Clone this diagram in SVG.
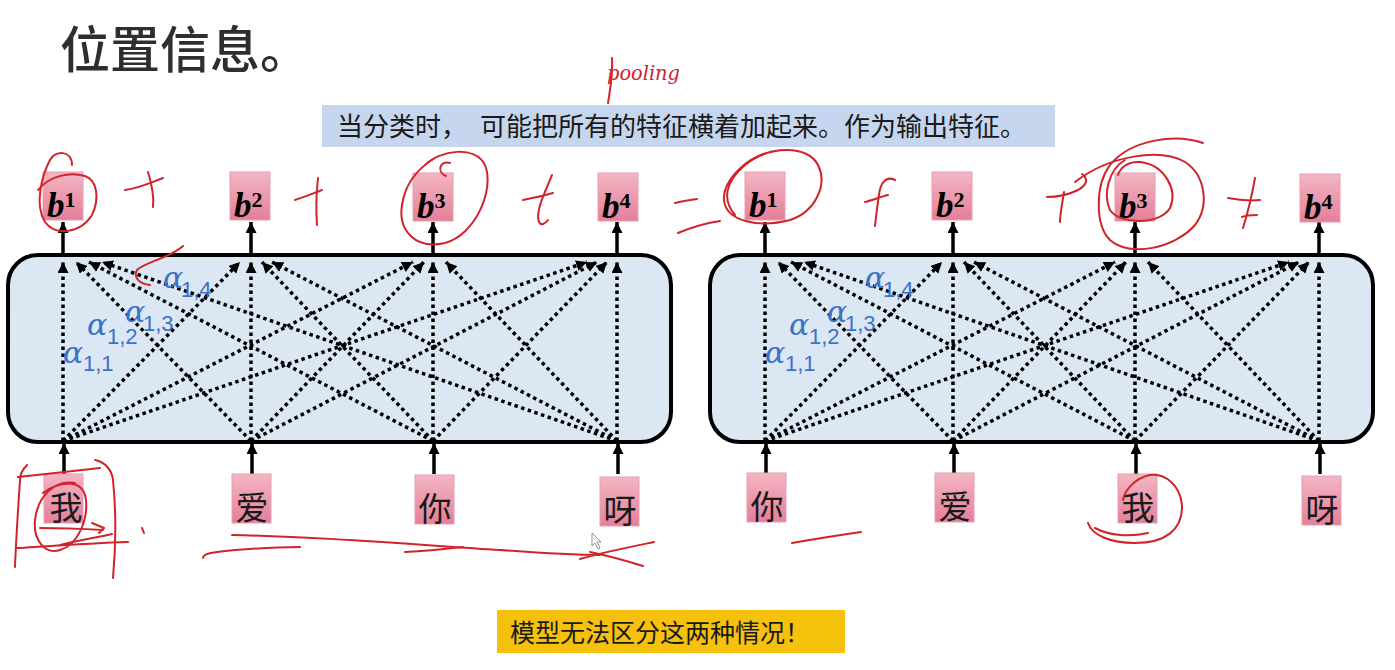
<svg xmlns="http://www.w3.org/2000/svg" width="1395" height="670" viewBox="0 0 1395 670">
<style>
.cjk{font-family:"Noto Sans CJK SC","Noto Sans",sans-serif;fill:#1a1a1a}
.box{fill:url(#pink);stroke:#e6a0b2;stroke-width:1}
.blk{fill:#dce7f4;stroke:#000;stroke-width:4}
.bl{font-family:"Liberation Serif",serif;font-weight:bold;font-style:italic;font-size:35px;fill:#000}
.sup{font-style:normal;font-size:22px}
.ch{font-size:33px;text-anchor:middle}
.solid{stroke:#000;stroke-width:3.5;marker-end:url(#ah)}
.dot{stroke:#000;stroke-width:3.5;stroke-dasharray:3.5 3.5;fill:none;marker-end:url(#ahs)}
.al{font-family:"DejaVu Serif",serif;font-style:italic;font-size:30px;fill:#3d72c4}
.sub{font-family:"Liberation Sans",sans-serif;font-size:22px;fill:#3d72c4}
.ink{fill:none;stroke:#d1232a;stroke-width:2;stroke-linecap:round;stroke-linejoin:round}
</style>
<defs>
<linearGradient id="pink" x1="0" y1="0" x2="0" y2="1">
<stop offset="0" stop-color="#f3b6c4"/>
<stop offset="1" stop-color="#e47f98"/>
</linearGradient>
<marker id="ah" markerUnits="userSpaceOnUse" markerWidth="12" markerHeight="12" refX="11" refY="5.5" orient="auto">
<path d="M0,0 L11,5.5 L0,11 z" fill="#000"/>
</marker>
<marker id="ahs" markerUnits="userSpaceOnUse" markerWidth="12" markerHeight="12" refX="11" refY="5.5" orient="auto">
<path d="M0,0 L11,5.5 L0,11 z" fill="#000"/>
</marker>
</defs>
<rect width="1395" height="670" fill="#fff"/>

<g id="title">
<text class="cjk" x="60" y="68" font-size="50" font-weight="500" style="fill:#2e2e2e">位置信息。</text>
</g>

<g id="banner">
<rect x="322" y="105" width="733" height="42" fill="#c5d6ee"/>
<text class="cjk" y="136" font-size="26"><tspan x="337">当分类时，</tspan><tspan x="480">可能把所有的特征横着加起来。作为输出特征。</tspan></text>
</g>

<g id="left-block"><rect class="blk" x="8" y="255" width="663" height="187" rx="30"/></g>
<g id="right-block"><rect class="blk" x="710" y="255" width="663" height="187" rx="30"/></g>

<g id="connectors">
<line class="solid" x1="63" y1="255" x2="63" y2="222"/>
<line class="solid" x1="251" y1="255" x2="251" y2="222"/>
<line class="solid" x1="433" y1="255" x2="433" y2="222"/>
<line class="solid" x1="617" y1="255" x2="617" y2="222"/>
<line class="solid" x1="765" y1="255" x2="765" y2="222"/>
<line class="solid" x1="953" y1="255" x2="953" y2="222"/>
<line class="solid" x1="1135" y1="255" x2="1135" y2="222"/>
<line class="solid" x1="1319" y1="255" x2="1319" y2="222"/>
<line class="solid" x1="64" y1="474" x2="64" y2="443"/>
<line class="solid" x1="252" y1="474" x2="252" y2="443"/>
<line class="solid" x1="434" y1="474" x2="434" y2="443"/>
<line class="solid" x1="618" y1="474" x2="618" y2="443"/>
<line class="solid" x1="766" y1="474" x2="766" y2="443"/>
<line class="solid" x1="954" y1="474" x2="954" y2="443"/>
<line class="solid" x1="1136" y1="474" x2="1136" y2="443"/>
<line class="solid" x1="1320" y1="474" x2="1320" y2="443"/>

<line class="dot" x1="63" y1="441" x2="63" y2="262"/>
<line class="dot" x1="63" y1="441" x2="240" y2="262"/>
<line class="dot" x1="63" y1="441" x2="413" y2="262"/>
<line class="dot" x1="63" y1="441" x2="587" y2="262"/>
<line class="dot" x1="251" y1="441" x2="76" y2="262"/>
<line class="dot" x1="251" y1="441" x2="251" y2="262"/>
<line class="dot" x1="251" y1="441" x2="424" y2="262"/>
<line class="dot" x1="251" y1="441" x2="597" y2="262"/>
<line class="dot" x1="433" y1="441" x2="89" y2="262"/>
<line class="dot" x1="433" y1="441" x2="262" y2="262"/>
<line class="dot" x1="433" y1="441" x2="433" y2="262"/>
<line class="dot" x1="433" y1="441" x2="607" y2="262"/>
<line class="dot" x1="617" y1="441" x2="102" y2="262"/>
<line class="dot" x1="617" y1="441" x2="272" y2="262"/>
<line class="dot" x1="617" y1="441" x2="446" y2="262"/>
<line class="dot" x1="617" y1="441" x2="617" y2="262"/>

<line class="dot" x1="765" y1="441" x2="765" y2="262"/>
<line class="dot" x1="765" y1="441" x2="942" y2="262"/>
<line class="dot" x1="765" y1="441" x2="1115" y2="262"/>
<line class="dot" x1="765" y1="441" x2="1289" y2="262"/>
<line class="dot" x1="953" y1="441" x2="778" y2="262"/>
<line class="dot" x1="953" y1="441" x2="953" y2="262"/>
<line class="dot" x1="953" y1="441" x2="1126" y2="262"/>
<line class="dot" x1="953" y1="441" x2="1299" y2="262"/>
<line class="dot" x1="1135" y1="441" x2="791" y2="262"/>
<line class="dot" x1="1135" y1="441" x2="964" y2="262"/>
<line class="dot" x1="1135" y1="441" x2="1135" y2="262"/>
<line class="dot" x1="1135" y1="441" x2="1309" y2="262"/>
<line class="dot" x1="1319" y1="441" x2="804" y2="262"/>
<line class="dot" x1="1319" y1="441" x2="974" y2="262"/>
<line class="dot" x1="1319" y1="441" x2="1148" y2="262"/>
<line class="dot" x1="1319" y1="441" x2="1319" y2="262"/>
</g>

<g id="alpha-left">
<text class="al" x="163" y="288">α</text><text class="sub" x="181" y="297">1,4</text>
<text class="al" x="125" y="322">α</text><text class="sub" x="143" y="331">1,3</text>
<text class="al" x="87" y="335">α</text><text class="sub" x="107" y="344">1,2</text>
<text class="al" x="63" y="363">α</text><text class="sub" x="83" y="371">1,1</text>
</g>
<g id="alpha-right">
<text class="al" x="865" y="288">α</text><text class="sub" x="883" y="297">1,4</text>
<text class="al" x="827" y="322">α</text><text class="sub" x="845" y="331">1,3</text>
<text class="al" x="789" y="335">α</text><text class="sub" x="809" y="344">1,2</text>
<text class="al" x="765" y="363">α</text><text class="sub" x="785" y="371">1,1</text>
</g>

<g id="L-b1"><rect class="box" x="43" y="172" width="40" height="48"/><text class="bl" x="47" y="217">b<tspan class="sup" dy="-10">1</tspan></text></g>
<g id="L-b2"><rect class="box" x="230" y="172" width="40" height="48"/><text class="bl" x="234" y="217">b<tspan class="sup" dy="-10">2</tspan></text></g>
<g id="L-b3"><rect class="box" x="413" y="173" width="40" height="48"/><text class="bl" x="417" y="218">b<tspan class="sup" dy="-10">3</tspan></text></g>
<g id="L-b4"><rect class="box" x="598" y="173" width="40" height="48"/><text class="bl" x="602" y="218">b<tspan class="sup" dy="-10">4</tspan></text></g>
<g id="R-b1"><rect class="box" x="745" y="172" width="40" height="48"/><text class="bl" x="749" y="217">b<tspan class="sup" dy="-10">1</tspan></text></g>
<g id="R-b2"><rect class="box" x="932" y="172" width="40" height="48"/><text class="bl" x="936" y="217">b<tspan class="sup" dy="-10">2</tspan></text></g>
<g id="R-b3"><rect class="box" x="1115" y="173" width="40" height="48"/><text class="bl" x="1119" y="218">b<tspan class="sup" dy="-10">3</tspan></text></g>
<g id="R-b4"><rect class="box" x="1300" y="174" width="40" height="48"/><text class="bl" x="1304" y="219">b<tspan class="sup" dy="-10">4</tspan></text></g>

<g id="L-w1"><rect class="box" x="44" y="474" width="39" height="49"/><text class="cjk ch" x="66" y="520">我</text></g>
<g id="L-w2"><rect class="box" x="232" y="474" width="39" height="49"/><text class="cjk ch" x="252" y="520">爱</text></g>
<g id="L-w3"><rect class="box" x="415" y="475" width="39" height="49"/><text class="cjk ch" x="435" y="521">你</text></g>
<g id="L-w4"><rect class="box" x="600" y="477" width="39" height="49"/><text class="cjk ch" x="620" y="523">呀</text></g>
<g id="R-w1"><rect class="box" x="747" y="473" width="39" height="49"/><text class="cjk ch" x="767" y="519">你</text></g>
<g id="R-w2"><rect class="box" x="935" y="473" width="39" height="49"/><text class="cjk ch" x="955" y="519">爱</text></g>
<g id="R-w3"><rect class="box" x="1118" y="474" width="39" height="49"/><text class="cjk ch" x="1138" y="520">我</text></g>
<g id="R-w4"><rect class="box" x="1302" y="476" width="39" height="49"/><text class="cjk ch" x="1322" y="522">呀</text></g>

<g id="note">
<rect x="497" y="610" width="348" height="43" fill="#f5c10c"/>
<text class="cjk" x="510" y="642" font-size="25">模型无法区分这两种情况！</text>
</g>

<g id="handwriting">
<text x="607" y="80" font-family="DejaVu Serif, serif" font-style="italic" font-size="20" fill="#d1232a" textLength="73" lengthAdjust="spacingAndGlyphs">pooling</text>
<path class="ink" d="M612,58 C613,75 610,90 608,103"/>
<path class="ink" d="M72,165 C72,150 55,150 50,160 C42,175 34,205 45,222 C55,236 80,234 92,215 C100,198 97,180 85,176 C70,172 50,175 38,190"/>
<path class="ink" d="M125,190 C140,188 152,182 163,178 M148,172 C152,185 154,198 153,207"/>
<path class="ink" d="M295,200 C305,197 314,193 322,190 M318,178 C316,195 316,210 317,225"/>
<path class="ink" d="M450,163 C440,160 436,172 446,176 M425,165 C440,150 475,145 485,165 C495,190 475,235 445,243 C415,250 398,230 402,205 C405,185 415,170 435,158"/>
<path class="ink" d="M183,246 C170,258 145,262 137,270 C133,278 140,284 150,285"/>
<path class="ink" d="M552,175 C545,192 535,212 539,222 C541,226 545,224 548,220 M523,200 C533,198 543,196 553,193"/>
<path class="ink" d="M675,203 C683,201 690,200 697,199 M678,233 C690,228 705,223 720,221"/>
<path class="ink" d="M782,150 C750,152 722,180 724,200 C726,222 760,228 790,220 C815,212 828,185 818,165 C808,145 770,145 745,165 C725,182 722,200 735,215"/>
<path class="ink" d="M895,180 C885,175 880,185 879,195 C877,208 876,218 875,226 M865,202 C873,200 880,197 888,195"/>
<path class="ink" d="M1047,197 C1058,197 1070,194 1078,190 C1085,186 1090,180 1082,174 M1064,192 C1062,205 1060,215 1060,222"/>
<path class="ink" d="M1203,143 C1175,133 1130,140 1110,165 C1095,185 1095,225 1110,240 C1130,258 1175,248 1195,225 C1210,205 1205,175 1185,162 C1160,148 1110,155 1075,182"/>
<path class="ink" d="M1125,160 C1108,170 1103,195 1110,210 C1120,225 1160,225 1170,208 C1178,190 1165,165 1140,162 C1128,161 1120,168 1118,175"/>
<path class="ink" d="M1228,198 C1238,200 1250,201 1260,200 M1255,178 C1252,195 1248,212 1243,228 M1242,217 C1247,215 1252,215 1257,215"/>
<path class="ink" d="M27,465 C22,470 20,475 20,480 C18,510 16,540 15,567 M18,477 C45,474 80,470 100,468 M95,460 C105,462 112,470 113,480 C116,510 116,545 113,578 M17,548 C50,546 95,543 128,542 M60,545 C80,540 100,537 112,534"/>
<path class="ink" d="M75,483 C55,480 38,495 35,520 C33,540 45,555 60,550 C78,545 88,520 86,500 C85,487 75,482 65,484 M43,493 C50,487 60,484 70,483 M40,528 C60,528 85,529 103,530 M92,523 L104,528 L99,533"/>
<path class="ink" d="M142,528 L144,533"/>
<path class="ink" d="M232,535 C330,537 420,545 500,550 C540,553 570,555 600,555 M580,559 C600,553 630,547 654,542 M590,552 C610,556 630,562 643,566"/>
<path class="ink" d="M203,558 C203,553 215,552 235,550 C260,548 280,547 300,547 M405,552 C425,551 445,549 463,547"/>
<path class="ink" d="M792,543 C815,539 840,535 861,532"/>
<path class="ink" d="M1088,523 C1092,535 1110,543 1135,543 C1165,543 1183,530 1182,505 C1180,485 1165,473 1150,475 C1135,478 1125,490 1123,500 M1095,528 C1110,536 1130,537 1148,533"/>
</g>
<g id="cursor">
<path d="M592,533 L592,546 L595,543 L598,549 L600,548 L597,542 L601,542 Z" fill="#fff" stroke="#777" stroke-width="0.8"/>
</g>
</svg>
